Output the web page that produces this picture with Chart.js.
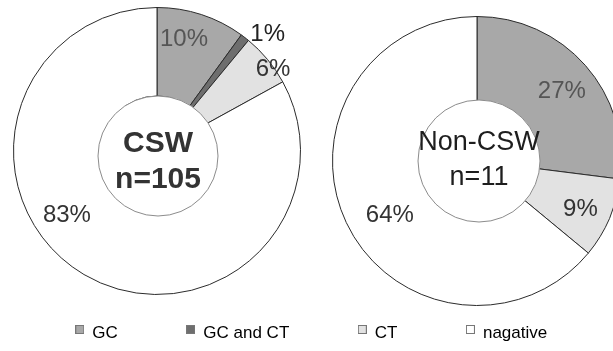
<!DOCTYPE html>
<html>
<head>
<meta charset="utf-8">
<script src="https://cdn.jsdelivr.net/npm/chart.js@4.4.1/dist/chart.umd.min.js"></script>
<style>
    html, body { margin: 0; padding: 0; width: 613px; height: 351px; overflow: hidden; background: #fff; }
    canvas { position: absolute; }
    #leftPie { left: 13px; top: 7px; }
    #rightPie { left: 332px; top: 16px; }
    #legendBox { left: 0; top: 256px; }
</style>
</head>
<body>
<canvas id="leftPie" width="288" height="288"></canvas>
<canvas id="rightPie" width="290" height="290"></canvas>
<canvas id="legendBox" width="623" height="200"></canvas>
<script>
// data (percent)
const categories = ['GC', 'GC and CT', 'CT', 'nagative'];
const cswValues = [10, 1, 6, 83];
const nonCswValues = [27, 0, 9, 64];
const cswCaption = ['CSW', 'n=105'];
const nonCswCaption = ['Non-CSW', 'n=11'];

const sliceColors = ['#a8a8a8', '#6e6e6e', '#e2e2e2', '#ffffff'];
const fontFamily = '"Liberation Sans", Arial, sans-serif';

Chart.defaults.font.family = fontFamily;
Chart.defaults.animation = false;

// where the % labels sit: [angle from top in deg, radius as part of outer radius, colour]
const cswSpots = [[13.6, 0.80, '#555'], [43.5, 1.12, '#222'], [54.8, 0.99, '#333'], [234.6, 0.77, '#333']];
const nonCswSpots = [[50.6, 0.76, '#555'], null, [115, 0.79, '#333'], [238.2, 0.71, '#333']];

// percent labels + the round caption in the middle
const pieText = {
    id: 'pieText',
    afterDatasetsDraw(chart, args, opts) {
        const arc = chart.getDatasetMeta(0).data[0];
        const cx = arc.x, cy = arc.y, R = arc.outerRadius;
        const ctx = chart.ctx;
        const values = chart.data.datasets[0].data;
        ctx.save();
        ctx.textAlign = 'center';
        ctx.textBaseline = 'middle';

        ctx.font = '24px ' + fontFamily;
        opts.spots.forEach((s, i) => {
            if (!s) return;
            const a = (s[0] - 90) * Math.PI / 180;
            ctx.fillStyle = s[2];
            ctx.fillText(values[i] + '%', cx + Math.cos(a) * s[1] * R, cy + Math.sin(a) * s[1] * R);
        });

        const d = opts.disc;
        ctx.beginPath();
        ctx.arc(cx + d.dx, cy + d.dy, d.r, 0, Math.PI * 2);
        ctx.fillStyle = '#fff';
        ctx.fill();
        ctx.lineWidth = 1;
        ctx.strokeStyle = '#8c8c8c';
        ctx.stroke();

        ctx.fillStyle = opts.captionColor;
        ctx.font = opts.captionFont;
        ctx.fillText(opts.caption[0], cx + d.dx, cy + opts.lineY[0]);
        ctx.fillText(opts.caption[1], cx + d.dx, cy + opts.lineY[1]);
        ctx.restore();
    }
};

function makePie(canvasId, values, spots, caption, captionFont, captionColor, disc, lineY, cutout) {
    let ctx = document.getElementById(canvasId).getContext('2d');
    return new Chart(ctx, {
        type: 'doughnut',
        data: {
            labels: categories,
            datasets: [{
                data: values,
                backgroundColor: sliceColors,
                borderColor: '#2b2b2b',
                borderWidth: 1,
            }]
        },
        options: {
            responsive: false,
            cutout: cutout,
            layout: { padding: 0 },
            events: [],
            plugins: {
                legend: { display: false },
                tooltip: { enabled: false },
                pieText: {
                    spots: spots, caption: caption, captionFont: captionFont,
                    captionColor: captionColor, disc: disc, lineY: lineY
                },
            }
        },
        plugins: [pieText]
    });
}

let cswPie = makePie('leftPie', cswValues, cswSpots, cswCaption, 'bold 30px ' + fontFamily, '#333',
    { dx: 1, dy: 5, r: 60 }, [-7, 29], 55);
let nonCswPie = makePie('rightPie', nonCswValues, nonCswSpots, nonCswCaption, '27px ' + fontFamily, '#1e1e1e',
    { dx: 2, dy: 0, r: 61 }, [-18, 17], 58);

// small legend square sitting high, like the original (drawn as a point style image)
function legendSquare(color) {
    const c = document.createElement('canvas');
    c.width = 9;
    c.height = 17;
    const g = c.getContext('2d');
    g.fillStyle = color;
    g.fillRect(0.5, 0.5, 8, 8);
    g.strokeStyle = '#777';
    g.lineWidth = 1;
    g.strokeRect(0.5, 0.5, 8, 8);
    return c;
}

// legend only: dataset hidden, legend drawn from the categories
let legendCtx = document.getElementById('legendBox').getContext('2d');
let legendChart = new Chart(legendCtx, {
    type: 'doughnut',
    data: {
        labels: categories,
        datasets: [{ data: cswValues, backgroundColor: sliceColors, hidden: true }]
    },
    options: {
        responsive: false,
        events: [],
        layout: { padding: 0 },
        plugins: {
            tooltip: { enabled: false },
            legend: {
                position: 'top',
                labels: {
                    color: '#333',
                    font: { size: 17 },
                    boxWidth: 8,
                    boxHeight: 8,
                    padding: 69,
                    usePointStyle: true,
                    generateLabels: (chart) => categories.map((c, i) => ({
                        text: c,
                        fillStyle: sliceColors[i],
                        strokeStyle: '#777',
                        lineWidth: 1,
                        pointStyle: legendSquare(sliceColors[i]),
                        hidden: false,
                        index: i,
                    }))
                }
            }
        }
    }
});
</script>
</body>
</html>
